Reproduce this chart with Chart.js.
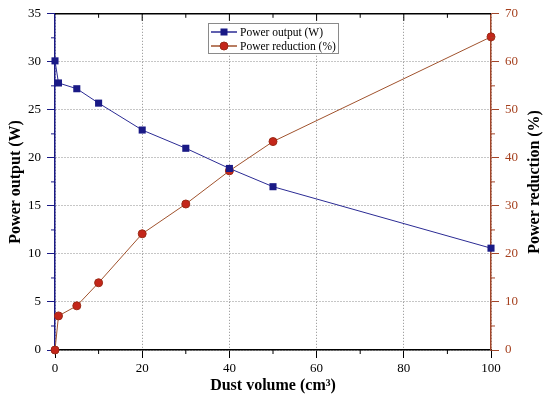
<!DOCTYPE html>
<html lang="en">
<head>
    <meta charset="UTF-8">
    <title>Power output vs dust volume</title>
    <script src="https://cdn.jsdelivr.net/npm/chart.js"></script>
    <style>
        body { margin: 0; padding: 0; background: #fff; }
        #wrap { width: 550px; height: 399px; }
    </style>
</head>
<body>
    <div id="wrap"><canvas id="dustChart" width="550" height="399"></canvas></div>
    <script>
        // values
        const dustVolume = [0, 0.8, 5, 10, 20, 30, 40, 50, 100];
        const powerOutput = [30.1, 27.8, 27.2, 25.7, 22.9, 21.0, 18.9, 17.0, 10.6];
        const powerReduction = [0, 7.1, 9.2, 14.0, 24.2, 30.4, 37.3, 43.4, 65.2];
        const rightTitle = 'Power reduction (%)';

        const navy = '#1a1a86';
        const brown = '#a2462a';
        const serif = "'Liberation Serif', 'Times New Roman', serif";

        // top frame line, minor ticks, right axis title (reads bottom-up like the left one)
        const frame = {
            id: 'frame',
            afterDraw(chart) {
                const { ctx, chartArea: a, scales } = chart;
                const x = scales.x, y = scales.y, y1 = scales.y1;
                const seg = (x1, yA, x2, yB) => { ctx.beginPath(); ctx.moveTo(x1, yA); ctx.lineTo(x2, yB); ctx.stroke(); };
                ctx.save();
                ctx.strokeStyle = '#000';
                ctx.lineWidth = 1.5;
                seg(a.left, a.top, a.right, a.top);
                ctx.lineWidth = 1;
                for (let v = 10; v < 100; v += 10) {
                    const px = x.getPixelForValue(v);
                    seg(px, a.top, px, a.top + (v % 20 === 0 ? 7 : 4));
                    if (v % 20 !== 0) seg(px, a.bottom, px, a.bottom + 4);
                }
                ctx.strokeStyle = navy;
                for (let v = 2.5; v < 35; v += 5) {
                    const py = y.getPixelForValue(v);
                    seg(a.left - 4, py, a.left, py);
                }
                ctx.strokeStyle = brown;
                for (let v = 5; v < 70; v += 10) {
                    const py = y1.getPixelForValue(v);
                    seg(a.right, py, a.right + 4, py);
                }
                ctx.translate(y1.right - 15, (a.top + a.bottom) / 2);
                ctx.rotate(-Math.PI / 2);
                ctx.fillStyle = '#000';
                ctx.font = 'bold 16px ' + serif;
                ctx.textAlign = 'center';
                ctx.textBaseline = 'middle';
                ctx.fillText(rightTitle, 0, 0);
                ctx.restore();
            }
        };

        // boxed legend inside the plot
        const boxLegend = {
            id: 'boxLegend',
            afterDraw(chart) {
                const ctx = chart.ctx;
                const bx = 208, by = 23, bw = 130, bh = 30;
                ctx.save();
                ctx.fillStyle = '#fff';
                ctx.fillRect(bx, by, bw, bh);
                ctx.strokeStyle = '#8a8a8a';
                ctx.lineWidth = 1;
                ctx.strokeRect(bx + 0.5, by + 0.5, bw, bh);
                chart.data.datasets.forEach((ds, i) => {
                    const cy = by + 9 + i * 14;
                    ctx.strokeStyle = ds.borderColor;
                    ctx.lineWidth = 1.5;
                    ctx.beginPath(); ctx.moveTo(bx + 3, cy); ctx.lineTo(bx + 29, cy); ctx.stroke();
                    ctx.fillStyle = ds.pointBackgroundColor;
                    ctx.strokeStyle = ds.pointBorderColor;
                    ctx.lineWidth = 1;
                    if (ds.pointStyle === 'rect') {
                        ctx.fillRect(bx + 12.5, cy - 3.5, 7, 7);
                    } else {
                        ctx.beginPath(); ctx.arc(bx + 16, cy, 4, 0, Math.PI * 2); ctx.fill(); ctx.stroke();
                    }
                    ctx.fillStyle = '#000';
                    ctx.font = '11.5px ' + serif;
                    ctx.textBaseline = 'middle';
                    ctx.fillText(ds.label, bx + 32, cy + 0.5);
                });
                ctx.restore();
            }
        };

        const ctx = document.getElementById('dustChart').getContext('2d');
        new Chart(ctx, {
            type: 'scatter',
            data: {
                datasets: [{
                    label: 'Power output (W)',
                    data: dustVolume.map((v, i) => ({ x: v, y: powerOutput[i] })),
                    yAxisID: 'y',
                    showLine: true,
                    borderColor: '#2b2b94',
                    borderWidth: 1,
                    pointStyle: 'rect',
                    pointRadius: 5,
                    pointBackgroundColor: navy,
                    pointBorderColor: navy,
                    pointBorderWidth: 0,
                    clip: false
                }, {
                    label: 'Power reduction (%)',
                    data: dustVolume.map((v, i) => ({ x: v, y: powerReduction[i] })),
                    yAxisID: 'y1',
                    showLine: true,
                    borderColor: '#a0522d',
                    borderWidth: 1,
                    pointStyle: 'circle',
                    pointRadius: 4,
                    pointBackgroundColor: '#c4261a',
                    pointBorderColor: '#9a2a16',
                    pointBorderWidth: 1,
                    clip: false
                }]
            },
            options: {
                responsive: false,
                animation: false,
                layout: { padding: { top: 12, left: 0, right: 0, bottom: 0 } },
                plugins: {
                    legend: { display: false },
                    tooltip: { enabled: false }
                },
                scales: {
                    x: {
                        type: 'linear',
                        position: 'bottom',
                        min: 0, max: 100,
                        afterFit: s => { s.height = 49; },
                        ticks: { stepSize: 20, padding: 3, color: '#000', font: { family: serif, size: 13 } },
                        grid: { color: '#8c8c8c', lineWidth: 1, borderDash: [1, 2], tickColor: '#000', tickLength: 8, tickWidth: 1 },
                        border: { color: '#000', width: 1.5, dash: [1, 2] },
                        title: { display: true, text: 'Dust volume (cm³)', color: '#000', padding: { top: 3, bottom: 3.4 }, font: { family: serif, size: 16, weight: 'bold', lineHeight: 1.2 } }
                    },
                    y: {
                        position: 'left',
                        min: 0, max: 35,
                        afterFit: s => { s.width = 55; },
                        ticks: { stepSize: 5, padding: 6, color: '#000', font: { family: serif, size: 13 } },
                        grid: { color: '#8c8c8c', lineWidth: 1, borderDash: [1, 2], tickColor: navy, tickLength: 8, tickWidth: 1 },
                        border: { color: navy, width: 1.5, dash: [1, 2] },
                        title: { display: true, text: 'Power output (W)', color: '#000', padding: { top: 6.4, bottom: 0 }, font: { family: serif, size: 16, weight: 'bold', lineHeight: 1.2 } }
                    },
                    y1: {
                        position: 'right',
                        min: 0, max: 70,
                        afterFit: s => { s.width = 59; },
                        ticks: { stepSize: 10, padding: 6, color: '#a5401e', font: { family: serif, size: 13 } },
                        grid: { drawOnChartArea: false, tickColor: brown, tickLength: 8, tickWidth: 1 },
                        border: { color: brown, width: 1.5 }
                    }
                }
            },
            plugins: [frame, boxLegend]
        });
    </script>
</body>
</html>
